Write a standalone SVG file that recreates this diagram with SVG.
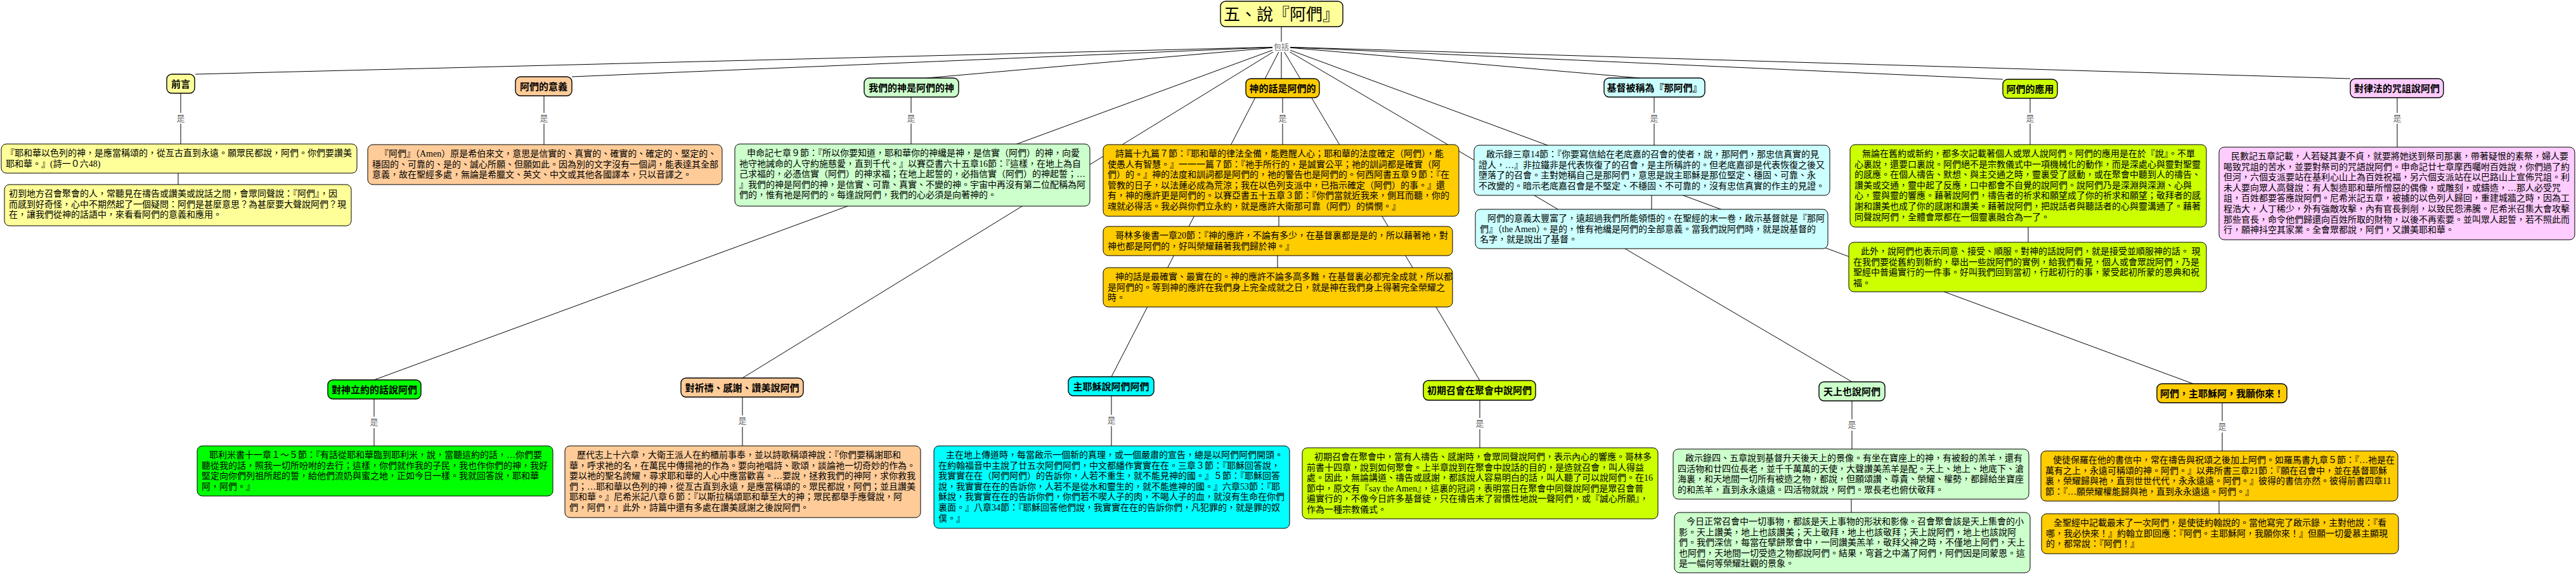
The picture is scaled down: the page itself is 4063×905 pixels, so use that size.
<svg xmlns="http://www.w3.org/2000/svg" width="4063" height="905" viewBox="0 0 4063 905">
<style>
.ln{stroke:#000;stroke-width:1;fill:none}
.bx{stroke:#000;stroke-width:1}
.nd{stroke:#000;stroke-width:1.4}
.t{font-family:'Liberation Serif','Noto Sans CJK TC',serif;font-size:14px;fill:#000}
.nt{font-family:'Liberation Serif','Noto Sans CJK TC',serif;font-size:15px;font-weight:bold;fill:#000;text-anchor:middle}
.tt{font-family:'Liberation Serif','Noto Sans CJK TC',serif;font-size:26px;fill:#000;text-anchor:middle}
.lb{font-family:'Liberation Sans','Noto Sans CJK TC',sans-serif;font-size:13px;fill:#666;text-anchor:middle}
.yel{fill:#FFFF99}.pch{fill:#FFCC99}.lgr{fill:#CCFFCC}.org{fill:#FFCC00}.lcy{fill:#CCFFFF}.lim{fill:#CCFF00}.pnk{fill:#FFCCFF}.grn{fill:#00FF00}.cyn{fill:#00FFFF}
</style>
<rect width="4063" height="905" fill="#fff"/>
<g id="connectors">
<line class="ln" x1="2021" y1="42" x2="2021" y2="66"/>
<line class="ln" x1="2021" y1="74" x2="308" y2="117"/>
<line class="ln" x1="2021" y1="74" x2="902" y2="121"/>
<line class="ln" x1="2021" y1="74" x2="1462" y2="123"/>
<line class="ln" x1="2021" y1="74" x2="2021" y2="124"/>
<line class="ln" x1="2021" y1="74" x2="2586" y2="123"/>
<line class="ln" x1="2021" y1="74" x2="3159" y2="125"/>
<line class="ln" x1="2021" y1="74" x2="3707" y2="124"/>
<line class="ln" x1="2021" y1="74" x2="590" y2="599"/>
<line class="ln" x1="2021" y1="74" x2="1171" y2="596"/>
<line class="ln" x1="2021" y1="74" x2="1753" y2="594"/>
<line class="ln" x1="2021" y1="74" x2="2334" y2="600"/>
<line class="ln" x1="2021" y1="74" x2="2921" y2="602"/>
<line class="ln" x1="2021" y1="74" x2="3459" y2="605"/>
<rect x="2007" y="66" width="28" height="16" fill="#fff"/>
<text class="lb" x="2021" y="79" style="font-size:12px">包括</text>
<!-- level-1 "是" links -->
<path class="ln" d="M285 147V178M285 195V227"/><text class="lb" x="285" y="191">是</text>
<path class="ln" d="M858 151V178M858 195V228"/><text class="lb" x="858" y="191">是</text>
<path class="ln" d="M1437 153V178M1437 195V227"/><text class="lb" x="1437" y="191">是</text>
<path class="ln" d="M2023 154V178M2023 195V228"/><text class="lb" x="2023" y="191">是</text>
<path class="ln" d="M2609 153V178M2609 195V229"/><text class="lb" x="2609" y="191">是</text>
<path class="ln" d="M3202 155V178M3202 195V228"/><text class="lb" x="3202" y="191">是</text>
<path class="ln" d="M3781 154V178M3781 195V232"/><text class="lb" x="3781" y="191">是</text>
<!-- level-2 "是" links -->
<path class="ln" d="M590 629V657M590 675V703"/><text class="lb" x="590" y="670">是</text>
<path class="ln" d="M1171 626V655M1171 673V703"/><text class="lb" x="1171" y="668">是</text>
<path class="ln" d="M1753 624V654M1753 672V703"/><text class="lb" x="1753" y="667">是</text>
<path class="ln" d="M2334 631V659M2334 677V706"/><text class="lb" x="2334" y="672">是</text>
<path class="ln" d="M2921 632V661M2921 679V708"/><text class="lb" x="2921" y="674">是</text>
<path class="ln" d="M3505 635V664M3505 682V711"/><text class="lb" x="3505" y="677">是</text>
<!-- box to box -->
<path class="ln" d="M281 273V291M2017 341V357M2015 403V422M2605 308V330M3199 358V382M2920 787V808M3500 790V810"/>
</g>

<g id="title"><rect class="nd yel" x="1925" y="2" width="193" height="40" rx="8"/><text class="tt" x="2021" y="32">五、說『阿們』</text></g>

<g id="n_qianyan"><rect class="nd yel" x="263" y="117" width="44" height="30" rx="8"/><text class="nt" x="285" y="137.5">前言</text></g>
<g id="n_yiyi"><rect class="nd pch" x="813" y="121" width="89" height="30" rx="8"/><text class="nt" x="857.5" y="141.5">阿們的意義</text></g>
<g id="n_shen"><rect class="nd lgr" x="1363" y="123" width="149" height="30" rx="8"/><text class="nt" x="1437.5" y="143.5">我們的神是阿們的神</text></g>
<g id="n_hua"><rect class="nd org" x="1965" y="124" width="116" height="30" rx="8"/><text class="nt" x="2023" y="144.5">神的話是阿們的</text></g>
<g id="n_jidu"><rect class="nd lcy" x="2530" y="123" width="159" height="30" rx="8"/><text class="nt" x="2609.5" y="143.5">基督被稱為『那阿們』</text></g>
<g id="n_yingyong"><rect class="nd lim" x="3159" y="125" width="86" height="30" rx="8"/><text class="nt" x="3202" y="145.5">阿們的應用</text></g>
<g id="n_lvfa"><rect class="nd pnk" x="3707" y="124" width="147" height="30" rx="8"/><text class="nt" x="3780.5" y="144.5">對律法的咒詛說阿們</text></g>

<g id="n_liyue"><rect class="nd grn" x="517" y="599" width="147" height="30" rx="8"/><text class="nt" x="590.5" y="619.5">對神立約的話說阿們</text></g>
<g id="n_qidao"><rect class="nd pch" x="1074" y="596" width="193" height="30" rx="8"/><text class="nt" x="1170.5" y="616.5">對祈禱、感謝、讚美說阿們</text></g>
<g id="n_zhuyesu"><rect class="nd cyn" x="1685" y="594" width="135" height="30" rx="8"/><text class="nt" x="1752.5" y="614.5">主耶穌說阿們阿們</text></g>
<g id="n_chuqi"><rect class="nd lim" x="2245" y="600" width="177" height="31" rx="8"/><text class="nt" x="2333.5" y="621">初期召會在聚會中說阿們</text></g>
<g id="n_tianshang"><rect class="nd lgr" x="2869" y="602" width="104" height="30" rx="8"/><text class="nt" x="2921" y="622.5">天上也說阿們</text></g>
<g id="n_lai"><rect class="nd org" x="3402" y="605" width="205" height="30" rx="8"/><text class="nt" x="3504.5" y="625.5">阿們，主耶穌阿，我願你來！</text></g>

<g id="b_qianyan1"><rect class="bx yel" x="2" y="227" width="561" height="46" rx="8"/><text class="t"><tspan x="9" y="246">『耶和華以色列的神，是應當稱頌的，從亙古直到永遠。願眾民都說，阿們。你們要讚美</tspan><tspan x="9" y="262.6">耶和華。』(詩一０六48)</tspan></text></g>
<g id="b_qianyan2"><rect class="bx yel" x="7" y="291" width="547" height="65" rx="8"/><text class="t"><tspan x="14" y="310">初到地方召會聚會的人，常聽見在禱告或讚美或說話之間，會眾同聲說：『阿們』，因</tspan><tspan x="14" y="326.6">而感到好奇怪，心中不期然起了一個疑問：阿們是甚麼意思？為甚麼要大聲說阿們？現</tspan><tspan x="14" y="343.2">在，讓我們從神的話語中，來看看阿們的意義和應用。</tspan></text></g>
<g id="b_yiyi"><rect class="bx pch" x="580" y="228" width="559" height="63" rx="8"/><text class="t"><tspan x="599" y="247">『阿們』（Amen）原是希伯來文，意思是信實的、真實的、確實的、確定的、堅定的、</tspan><tspan x="587" y="263.6">穩固的、可靠的、是的、誠心所願、但願如此。因為別的文字沒有一個詞，能表達其全部</tspan><tspan x="587" y="280.2">意義，故在聖經多處，無論是希臘文、英文、中文或其他各國譯本，只以音譯之。</tspan></text></g>
<g id="b_shen"><rect class="bx lgr" x="1159" y="227" width="560" height="98" rx="8"/><text class="t"><tspan x="1178" y="246">申命記七章９節：『所以你要知道，耶和華你的神纔是神，是信實（阿們）的神，向愛</tspan><tspan x="1166" y="262.6">祂守祂誡命的人守約施慈愛，直到千代。』以賽亞書六十五章16節：『這樣，在地上為自</tspan><tspan x="1166" y="279.2">己求福的，必憑信實（阿們）的神求福；在地上起誓的，必指信實（阿們）的神起誓；…</tspan><tspan x="1166" y="295.8">』我們的神是阿們的神，是信實、可靠、真實、不變的神。宇宙中再沒有第二位配稱為阿</tspan><tspan x="1166" y="312.4">們的，惟有祂是阿們的。每逢說阿們，我們的心必須是向著神的。</tspan></text></g>
<g id="b_hua1"><rect class="bx org" x="1740" y="228" width="561" height="113" rx="8"/><text class="t"><tspan x="1759" y="247">詩篇十九篇７節：『耶和華的律法全備，能甦醒人心；耶和華的法度確定（阿們），能</tspan><tspan x="1747" y="263.6">使愚人有智慧。』一一一篇７節：『祂手所行的，是誠實公平；祂的訓詞都是確實（阿</tspan><tspan x="1747" y="280.2">們）的。』神的法度和訓詞都是阿們的，祂的警告也是阿們的。何西阿書五章９節：『在</tspan><tspan x="1747" y="296.8">管教的日子，以法蓮必成為荒涼；我在以色列支派中，已指示確定（阿們）的事。』還</tspan><tspan x="1747" y="313.4">有，神的應許更是阿們的。以賽亞書五十五章３節：『你們當就近我來，側耳而聽，你的</tspan><tspan x="1747" y="330">魂就必得活。我必與你們立永約，就是應許大衛那可靠（阿們）的憐憫。』</tspan></text></g>
<g id="b_hua2"><rect class="bx org" x="1740" y="357" width="551" height="46" rx="8"/><text class="t"><tspan x="1759" y="376">哥林多後書一章20節：『神的應許，不論有多少，在基督裏都是是的，所以藉著祂，對</tspan><tspan x="1747" y="392.6">神也都是阿們的，好叫榮耀藉著我們歸於神。』</tspan></text></g>
<g id="b_hua3"><rect class="bx org" x="1740" y="422" width="551" height="62" rx="8"/><text class="t"><tspan x="1759" y="441">神的話是最確實、最實在的。神的應許不論多高多難，在基督裏必都完全成就，所以都</tspan><tspan x="1747" y="457.6">是阿們的。等到神的應許在我們身上完全成就之日，就是神在我們身上得著完全榮耀之</tspan><tspan x="1747" y="474.2">時。</tspan></text></g>
<g id="b_jidu1"><rect class="bx lcy" x="2325" y="229" width="561" height="79" rx="8"/><text class="t"><tspan x="2344" y="248">啟示錄三章14節：『你要寫信給在老底嘉的召會的使者，說，那阿們，那忠信真實的見</tspan><tspan x="2332" y="264.6">證人，…』非拉鐵非是代表恢復了的召會，是主所稱許的。但老底嘉卻是代表恢復之後又</tspan><tspan x="2332" y="281.2">墮落了的召會。主對她稱自己是那阿們，意思是說主耶穌是那位堅定、穩固、可靠、永</tspan><tspan x="2332" y="297.8">不改變的。暗示老底嘉召會是不堅定、不穩固、不可靠的，沒有忠信真實的作主的見證。</tspan></text></g>
<g id="b_jidu2"><rect class="bx lcy" x="2327" y="330" width="556" height="62" rx="8"/><text class="t"><tspan x="2346" y="349">阿們的意義太豐富了，遠超過我們所能領悟的。在聖經的末一卷，啟示基督就是『那阿</tspan><tspan x="2334" y="365.6">們』（the Amen）。是的，惟有祂纔是阿們的全部意義。當我們說阿們時，就是說基督的</tspan><tspan x="2334" y="382.2">名字，就是說出了基督。</tspan></text></g>
<g id="b_yingyong1"><rect class="bx lim" x="2918" y="228" width="562" height="130" rx="8"/><text class="t"><tspan x="2937" y="247">無論在舊約或新約，都多次記載著個人或眾人說阿們。阿們的應用是在於『說』。不單</tspan><tspan x="2925" y="263.6">心裏說，還要口裏說。阿們絕不是宗教儀式中一項機械化的動作，而是深處心與靈對聖靈</tspan><tspan x="2925" y="280.2">的感應。在個人禱告、默想、與主交通之時，靈裏受了感動，或在聚會中聽到人的禱告、</tspan><tspan x="2925" y="296.8">讚美或交通，靈中起了反應，口中都會不自覺的說阿們。說阿們乃是深淵與深淵、心與</tspan><tspan x="2925" y="313.4">心，靈與靈的響應。藉著說阿們，禱告者的祈求和願望成了你的祈求和願望；敬拜者的感</tspan><tspan x="2925" y="330">謝和讚美也成了你的感謝和讚美。藉著說阿們，把說話者與聽話者的心與靈溝通了。藉著</tspan><tspan x="2925" y="346.6">同聲說阿們，全體會眾都在一個靈裏融合為一了。</tspan></text></g>
<g id="b_yingyong2"><rect class="bx lim" x="2916" y="382" width="564" height="78" rx="8"/><text class="t"><tspan x="2935" y="401">此外，說阿們也表示同意、接受、順服。對神的話說阿們，就是接受並順服神的話。 現</tspan><tspan x="2923" y="417.6">在我們要從舊約到新約，舉出一些說阿們的實例，給我們看見，個人或會眾說阿們，乃是</tspan><tspan x="2923" y="434.2">聖經中普遍實行的一件事。好叫我們回到當初，行起初行的事，蒙受起初所蒙的恩典和祝</tspan><tspan x="2923" y="450.8">福。</tspan></text></g>
<g id="b_lvfa"><rect class="bx pnk" x="3500" y="232" width="561" height="146" rx="8"/><text class="t"><tspan x="3519" y="251">民數記五章記載，人若疑其妻不貞，就要將她送到祭司那裏，帶著疑恨的素祭，婦人要</tspan><tspan x="3507" y="267.6">喝致咒詛的苦水，並要對祭司的咒語說阿們。申命記廿七章摩西囑咐百姓說，你們過了約</tspan><tspan x="3507" y="284.2">但河，六個支派要站在基利心山上為百姓祝福，另六個支派站在以巴路山上宣佈咒詛。利</tspan><tspan x="3507" y="300.8">未人要向眾人高聲說：有人製造耶和華所憎惡的偶像，或雕刻，或鑄造，…那人必受咒</tspan><tspan x="3507" y="317.4">詛，百姓都要答應說阿們。尼希米記五章，被擄的以色列人歸回，重建城牆之時，因為工</tspan><tspan x="3507" y="334">程浩大，人丁稀少，外有強敵攻擊，內有官長剝削，以致民怨沸騰。尼希米召集大會攻擊</tspan><tspan x="3507" y="350.6">那些官長，命令他們歸還向百姓所取的財物，以後不再索要。並叫眾人起誓，若不照此而</tspan><tspan x="3507" y="367.2">行，願神抖空其家業。全會眾都說，阿們，又讚美耶和華。</tspan></text></g>

<g id="b_liyue"><rect class="bx grn" x="311" y="703" width="561" height="79" rx="8"/><text class="t"><tspan x="330" y="722">耶利米書十一章１～５節：『有話從耶和華臨到耶利米，說，當聽這約的話，…你們要</tspan><tspan x="318" y="738.6">聽從我的話，照我一切所吩咐的去行；這樣，你們就作我的子民，我也作你們的神，我好</tspan><tspan x="318" y="755.2">堅定向你們列祖所起的誓，給他們流奶與蜜之地，正如今日一樣。我就回答說，耶和華</tspan><tspan x="318" y="771.8">阿，阿們。』</tspan></text></g>
<g id="b_qidao"><rect class="bx pch" x="891" y="703" width="561" height="113" rx="8"/><text class="t"><tspan x="910" y="722">歷代志上十六章，大衛王派人在約櫃前事奉，並以詩歌稱頌神說：『你們要稱謝耶和</tspan><tspan x="898" y="738.6">華，呼求祂的名，在萬民中傳揚祂的作為。要向祂唱詩、歌頌，談論祂一切奇妙的作為。</tspan><tspan x="898" y="755.2">要以祂的聖名誇耀，尋求耶和華的人心中應當歡喜。…要說，拯救我們的神阿，求你救我</tspan><tspan x="898" y="771.8">們；…耶和華以色列的神，從亙古直到永遠，是應當稱頌的。眾民都說，阿們；並且讚美</tspan><tspan x="898" y="788.4">耶和華。』尼希米記八章６節：『以斯拉稱頌耶和華至大的神；眾民都舉手應聲說，阿</tspan><tspan x="898" y="805">們，阿們，』此外，詩篇中還有多處在讚美感謝之後說阿們。</tspan></text></g>
<g id="b_zhuyesu"><rect class="bx cyn" x="1473" y="703" width="561" height="130" rx="8"/><text class="t"><tspan x="1492" y="722">主在地上傳道時，每當啟示一個新的真理，或一個嚴肅的宣告，總是以阿們阿們開頭。</tspan><tspan x="1480" y="738.6">在約翰福音中主說了廿五次阿們阿們，中文都繙作實實在在。三章３節：『耶穌回答說，</tspan><tspan x="1480" y="755.2">我實實在在（阿們阿們）的告訴你，人若不重生，就不能見神的國。』５節：『耶穌回答</tspan><tspan x="1480" y="771.8">說，我實實在在的告訴你，人若不是從水和靈生的，就不能進神的國。』六章53節：『耶</tspan><tspan x="1480" y="788.4">穌說，我實實在在的告訴你們，你們若不喫人子的肉，不喝人子的血，就沒有生命在你們</tspan><tspan x="1480" y="805">裏面。』八章34節：『耶穌回答他們說，我實實在在的告訴你們，凡犯罪的，就是罪的奴</tspan><tspan x="1480" y="821.6">僕。』</tspan></text></g>
<g id="b_chuqi"><rect class="bx lim" x="2054" y="706" width="561" height="112" rx="8"/><text class="t"><tspan x="2073" y="725">初期召會在聚會中，當有人禱告、感謝時，會眾同聲說阿們，表示內心的響應。哥林多</tspan><tspan x="2061" y="741.6">前書十四章，說到如何聚會。上半章說到在聚會中說話的目的，是造就召會，叫人得益</tspan><tspan x="2061" y="758.2">處。因此，無論講道、禱告或感謝，都該說人容易明白的話，叫人聽了可以說阿們。在16</tspan><tspan x="2061" y="774.8">節中，原文有『say the Amen』，這裏的冠詞，表明當日在聚會中同聲說阿們是眾召會普</tspan><tspan x="2061" y="791.4">遍實行的，不像今日許多基督徒，只在禱告末了習慣性地說一聲阿們，或『誠心所願』，</tspan><tspan x="2061" y="808">作為一種宗教儀式。</tspan></text></g>
<g id="b_tianshang1"><rect class="bx lgr" x="2639" y="708" width="561" height="79" rx="8"/><text class="t"><tspan x="2658" y="727">啟示錄四、五章說到基督升天後天上的景像。有坐在寶座上的神，有被殺的羔羊，還有</tspan><tspan x="2646" y="743.6">四活物和廿四位長老，並千千萬萬的天使，大聲讚美羔羊是配。天上、地上、地底下、滄</tspan><tspan x="2646" y="760.2">海裏，和天地間一切所有被造之物，都說，但願頌讚、尊貴、榮耀、權勢，都歸給坐寶座</tspan><tspan x="2646" y="776.8">的和羔羊，直到永永遠遠。四活物就說，阿們。眾長老也俯伏敬拜。</tspan></text></g>
<g id="b_tianshang2"><rect class="bx lgr" x="2641" y="808" width="561" height="95" rx="8"/><text class="t"><tspan x="2660" y="827">今日正常召會中一切事物，都該是天上事物的形狀和影像。召會聚會該是天上集會的小</tspan><tspan x="2648" y="843.6">影。天上讚美，地上也該讚美；天上敬拜，地上也該敬拜；天上說阿們，地上也該說阿</tspan><tspan x="2648" y="860.2">們。我們深信，每當在擘餅聚會中，一同讚美羔羊，敬拜父神之時，不僅地上阿們，天上</tspan><tspan x="2648" y="876.8">也阿們，天地間一切受造之物都說阿們。結果，穹蒼之中滿了阿們，阿們因是同蒙恩。這</tspan><tspan x="2648" y="893.4">是一幅何等榮耀壯觀的景象。</tspan></text></g>
<g id="b_lai1"><rect class="bx org" x="3219" y="711" width="563" height="79" rx="8"/><text class="t"><tspan x="3238" y="730">使徒保羅在他的書信中，常在禱告與祝頌之後加上阿們。如羅馬書九章５節：『…祂是在</tspan><tspan x="3226" y="746.6">萬有之上，永遠可稱頌的神。阿們。』以弗所書三章21節：『願在召會中，並在基督耶穌</tspan><tspan x="3226" y="763.2">裏，榮耀歸與祂，直到世世代代，永永遠遠。阿們。』彼得的書信亦然。彼得前書四章11</tspan><tspan x="3226" y="779.8">節：『…願榮耀權能歸與祂，直到永永遠遠。阿們。』</tspan></text></g>
<g id="b_lai2"><rect class="bx org" x="3220" y="810" width="563" height="63" rx="8"/><text class="t"><tspan x="3239" y="829">全聖經中記載最末了一次阿們，是使徒約翰說的。當他寫完了啟示錄，主對他說：『看</tspan><tspan x="3227" y="845.6">哪，我必快來！』約翰立即回應：『阿們。主耶穌阿，我願你來！』但願一切愛慕主顯現</tspan><tspan x="3227" y="862.2">的，都常說：『阿們！』</tspan></text></g>
</svg>
